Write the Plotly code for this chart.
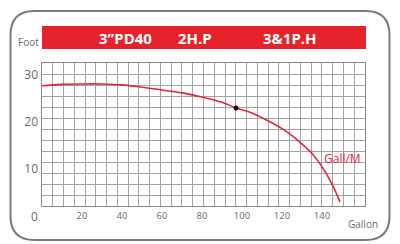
import plotly.graph_objects as go

# Data
gallons = [0, 10, 20, 30, 40, 50, 60, 70, 80, 90, 97, 105, 110, 120, 125, 130, 135, 140, 145, 149]
feet = [27.7, 28.0, 28.1, 28.1, 27.9, 27.4, 26.8, 26.2, 25.3, 24.2, 23.0, 21.9, 20.9, 18.6, 17.1, 15.3, 13.3, 10.5, 6.8, 3.0]
duty_gallon = [97]
duty_feet = [23.0]
x_ticks = [20, 40, 60, 80, 100, 120, 140]
y_ticks = [10, 20, 30]
title_parts = ["3\u201dPD40", "2H.P", "3&1P.H"]

W, H = 400, 244
L, R, T, B = 42, 365, 63, 206
pw, ph = R - L, B - T

def px(x):
    return (x - L) / pw

def py(y):
    return (B - y) / ph

fig = go.Figure()
# invisible trace so the grid subplot is drawn
fig.add_trace(go.Scatter(x=[0], y=[0], mode="markers", marker=dict(opacity=0), xaxis="x", yaxis="y",
                         hoverinfo="skip"))
fig.add_trace(go.Scatter(x=gallons, y=feet, mode="lines", line=dict(color="#e3243b", width=1.6, shape="spline"),
                         xaxis="x2", yaxis="y2", hoverinfo="skip"))
fig.add_trace(go.Scatter(x=duty_gallon, y=duty_feet, mode="markers", marker=dict(color="#111", size=5),
                         xaxis="x2", yaxis="y2", hoverinfo="skip"))

grid = "#a3a3a3"
fig.update_layout(
    width=W, height=H, margin=dict(l=L, r=W - R, t=T, b=H - B),
    paper_bgcolor="white", plot_bgcolor="white", showlegend=False,
    xaxis=dict(range=[0, 30], dtick=1, tick0=0, showgrid=True, gridcolor=grid, gridwidth=1,
               showticklabels=False, zeroline=False, showline=True, linecolor="#888", mirror=True, fixedrange=True),
    yaxis=dict(range=[0, 13], dtick=1, tick0=0, showgrid=True, gridcolor=grid, gridwidth=1,
               showticklabels=False, zeroline=False, showline=True, linecolor="#888", mirror=True, fixedrange=True),
    xaxis2=dict(overlaying="x", anchor="y2", side="bottom", range=[0, 161.5], tickvals=x_ticks,
                showgrid=False, zeroline=False, showline=False, ticks="",
                tickfont=dict(family="Open Sans", size=9.5, color="#6a6a6a"), ticklabelstandoff=2),
    yaxis2=dict(overlaying="y", anchor="x2", side="left", range=[(216 - B) / 4.7, (216 - T) / 4.7], tickvals=y_ticks,
                showgrid=False, zeroline=False, showline=False, ticks="",
                tickfont=dict(family="Open Sans", size=12, color="#6a6a6a"), ticklabelstandoff=3),
)

shapes = []
# red banner
shapes.append(dict(type="rect", xref="paper", yref="paper", x0=px(42), x1=px(366), y0=py(49), y1=py(26),
                   fillcolor="#e8222b", line=dict(width=0), layer="below"))
# rounded outer border
x0, x1, y0, y1, r = 10.5, 389.5, 11, 240, 24
path = (f"M {px(x0 + r)},{py(y0)} L {px(x1 - r)},{py(y0)} Q {px(x1)},{py(y0)} {px(x1)},{py(y0 + r)} "
        f"L {px(x1)},{py(y1 - r)} Q {px(x1)},{py(y1)} {px(x1 - r)},{py(y1)} "
        f"L {px(x0 + r)},{py(y1)} Q {px(x0)},{py(y1)} {px(x0)},{py(y1 - r)} "
        f"L {px(x0)},{py(y0 + r)} Q {px(x0)},{py(y0)} {px(x0 + r)},{py(y0)} Z")
shapes.append(dict(type="path", xref="paper", yref="paper", path=path, line=dict(color="#7a7a7a", width=2)))
fig.update_layout(shapes=shapes)

ann = []
for t, cx in zip(title_parts, [125, 195, 290]):
    ann.append(dict(text=f"<b>{t}</b>", x=px(cx), y=py(38), xref="paper", yref="paper", showarrow=False,
                    font=dict(family="Open Sans", size=15, color="white"), xanchor="center", yanchor="middle"))
ann.append(dict(text="Foot", x=px(28.5), y=py(42), xref="paper", yref="paper", showarrow=False,
                font=dict(family="Open Sans", size=10, color="#6a6a6a"), xanchor="center", yanchor="middle"))
ann.append(dict(text="0", x=px(34), y=py(216), xref="paper", yref="paper", showarrow=False,
                font=dict(family="Open Sans", size=12, color="#6a6a6a"), xanchor="center", yanchor="middle"))
ann.append(dict(text="Gallon", x=px(363), y=py(224), xref="paper", yref="paper", showarrow=False,
                font=dict(family="Open Sans", size=10, color="#6a6a6a"), xanchor="center", yanchor="middle"))
ann.append(dict(text="Gall/M", x=px(342.5), y=py(158), xref="paper", yref="paper", showarrow=False,
                font=dict(family="Open Sans", size=12, color="#e3243b"), xanchor="center", yanchor="middle"))
fig.update_layout(annotations=ann)

fig.write_html("out.html")
